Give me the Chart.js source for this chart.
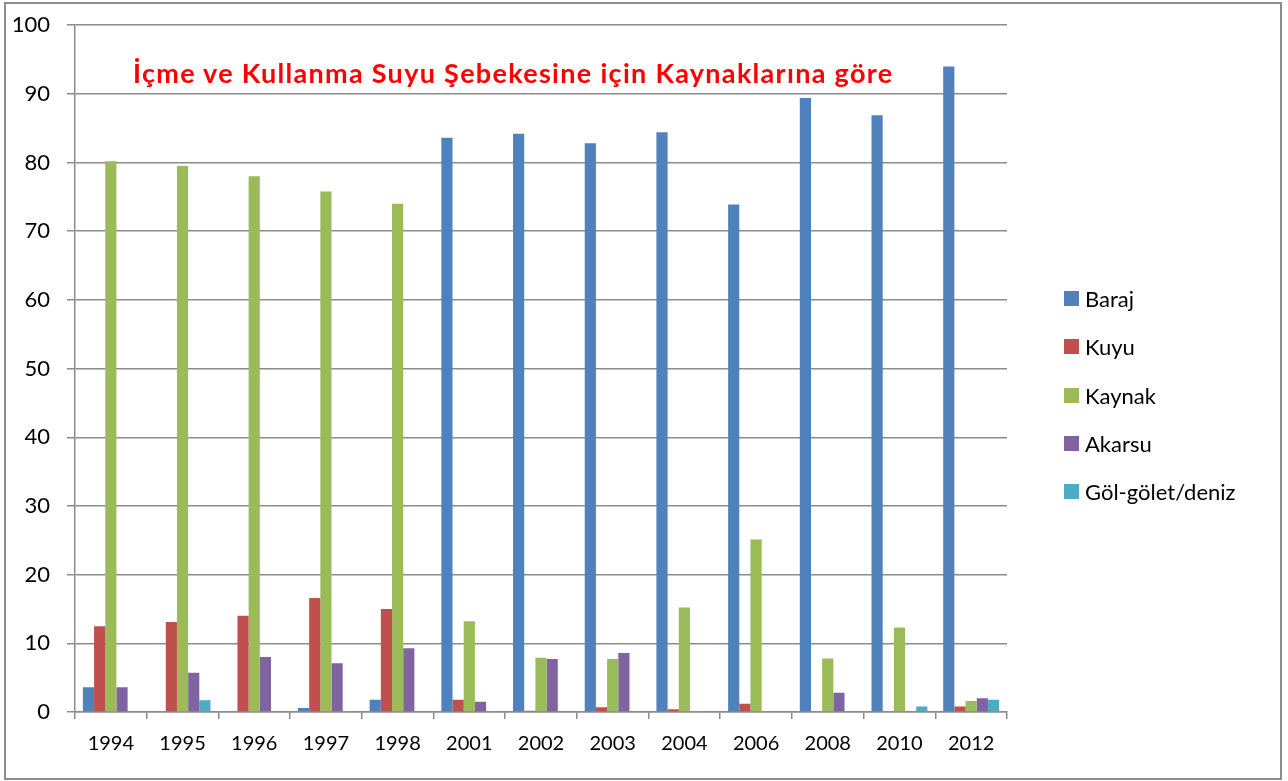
<!DOCTYPE html>
<html>
<head>
<meta charset="utf-8">
<script src="https://cdn.jsdelivr.net/npm/chart.js"></script>
<style>
    body { margin: 0; background: #fff; }
    #wrap { position: relative; width: 1288px; height: 781px; overflow: hidden; }
    #chart { position: absolute; left: 0; top: -5px; }
    #frame { position: absolute; left: 4px; top: 2px; width: 1274px; height: 774px; border: 2px solid #8c8c8c; pointer-events: none; }
    #title { position: absolute; left: 133px; top: 56px; font: bold 27px Lato, sans-serif; letter-spacing: 1.3px; color: #ff0000; white-space: nowrap; }
    #legend { position: absolute; left: 1064px; top: 291px; font: 22px Lato, sans-serif; color: #000; }
    #legend div { height: 48.3px; display: flex; align-items: flex-start; }
    #legend span.box { display: inline-block; width: 15px; height: 15px; margin-right: 6px; }
    #legend span.txt { line-height: 15px; }
</style>
</head>
<body>
<div id="wrap">
    <canvas id="chart" width="1288" height="781"></canvas>
    <div id="frame"></div>
    <div id="title">İçme ve Kullanma Suyu Şebekesine için Kaynaklarına göre</div>
    <div id="legend"></div>
</div>
<script>
const years = ['1994', '1995', '1996', '1997', '1998', '2001', '2002', '2003', '2004', '2006', '2008', '2010', '2012'];
const baraj   = [3.6, 0,    0,    0.6,  1.8,  83.6, 84.2, 82.8, 84.4, 73.9, 89.4, 86.9, 94.0];
const kuyu    = [12.5, 13.1, 14.0, 16.6, 15.0, 1.8, 0.2,  0.7,  0.4,  1.2,  0,    0,    0.8];
const kaynak  = [80.2, 79.5, 78.0, 75.8, 74.0, 13.2, 7.9, 7.7,  15.2, 25.1, 7.8,  12.3, 1.6];
const akarsu  = [3.6,  5.7,  8.0,  7.1,  9.3,  1.5,  7.7, 8.6,  0,    0,    2.8,  0,    2.0];
const golet   = [0,    1.7,  0,    0,    0,    0,    0,   0,    0,    0,    0,    0.8,  1.8];
const yTicks  = [0, 10, 20, 30, 40, 50, 60, 70, 80, 90, 100];

const ctx = document.getElementById('chart').getContext('2d');

const chart = new Chart(ctx, {
    type: 'bar',
    data: {
        labels: years,
        datasets: [
            { label: 'Baraj', data: baraj, backgroundColor: '#4F81BD' },
            { label: 'Kuyu', data: kuyu, backgroundColor: '#C0504D' },
            { label: 'Kaynak', data: kaynak, backgroundColor: '#9BBB59' },
            { label: 'Akarsu', data: akarsu, backgroundColor: '#8064A2' },
            { label: 'Göl-gölet/deniz', data: golet, backgroundColor: '#4BACC6' }
        ]
    },
    options: {
        responsive: false,
        animation: false,
        layout: { padding: { top: 20, right: 281, bottom: 0, left: 0 } },
        datasets: { bar: { categoryPercentage: 0.78, barPercentage: 1.0 } },
        plugins: {
            legend: { display: false },
            tooltip: { enabled: false }
        },
        scales: {
            x: {
                afterFit: (scale) => { scale.height = 64; },
                grid: { offset: true, drawOnChartArea: false, drawTicks: true, tickLength: 7, color: '#8c8c8c', lineWidth: 1.5 },
                border: { color: '#8c8c8c', width: 1.5 },
                ticks: { color: '#000', padding: 13, font: { family: 'Lato', size: 20 } }
            },
            y: {
                min: 0,
                max: 100,
                afterFit: (scale) => { scale.width = 75; },
                afterBuildTicks: (scale) => { scale.ticks = yTicks.map(v => ({ value: v })); },
                grid: { color: '#8c8c8c', lineWidth: 1.5, tickLength: 8 },
                border: { color: '#8c8c8c', width: 1.5 },
                ticks: { color: '#000', padding: 17, font: { family: 'Lato', size: 22 } }
            }
        }
    }
});

// legend from the chart's datasets
const legendEl = document.getElementById('legend');
chart.data.datasets.forEach(ds => {
    const row = document.createElement('div');
    row.innerHTML = '<span class="box" style="background:' + ds.backgroundColor + '"></span><span class="txt">' + ds.label + '</span>';
    legendEl.appendChild(row);
});
</script>
</body>
</html>
